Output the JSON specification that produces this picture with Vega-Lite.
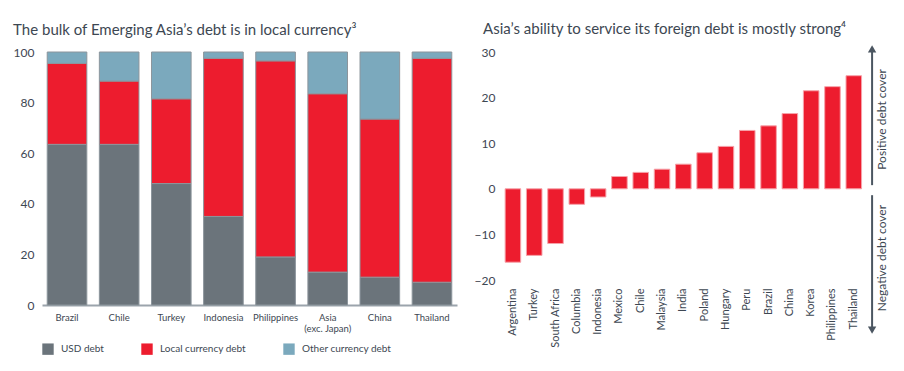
{
  "$schema": "https://vega.github.io/schema/vega-lite/v6.json",
  "background": "white",
  "padding": {"left": 13, "top": 22, "right": 5, "bottom": 5},
  "spacing": 17,
  "config": {
    "view": {"stroke": null},
    "font": "Lato",
    "axis": {"labelColor": "#3d4752", "labelFont": "Lato", "titleColor": "#3d4752"},
    "legend": {"labelColor": "#3d4752", "labelFont": "Lato"},
    "title": {"color": "#3d4752", "font": "Lato", "fontWeight": "normal", "fontSize": 15, "anchor": "start"}
  },
  "hconcat": [
    {
      "width": 415,
      "height": 253,
      "title": {"text": "The bulk of Emerging Asia’s debt is in local currency³", "frame": "bounds", "offset": 8},
      "data": {"values": [
        {"country": "Brazil", "type": "USD debt", "ord": 1, "value": 63.5},
        {"country": "Brazil", "type": "Local currency debt", "ord": 2, "value": 32},
        {"country": "Brazil", "type": "Other currency debt", "ord": 3, "value": 4.5},
        {"country": "Chile", "type": "USD debt", "ord": 1, "value": 63.5},
        {"country": "Chile", "type": "Local currency debt", "ord": 2, "value": 25},
        {"country": "Chile", "type": "Other currency debt", "ord": 3, "value": 11.5},
        {"country": "Turkey", "type": "USD debt", "ord": 1, "value": 48},
        {"country": "Turkey", "type": "Local currency debt", "ord": 2, "value": 33.5},
        {"country": "Turkey", "type": "Other currency debt", "ord": 3, "value": 18.5},
        {"country": "Indonesia", "type": "USD debt", "ord": 1, "value": 35},
        {"country": "Indonesia", "type": "Local currency debt", "ord": 2, "value": 62.5},
        {"country": "Indonesia", "type": "Other currency debt", "ord": 3, "value": 2.5},
        {"country": "Philippines", "type": "USD debt", "ord": 1, "value": 19},
        {"country": "Philippines", "type": "Local currency debt", "ord": 2, "value": 77.5},
        {"country": "Philippines", "type": "Other currency debt", "ord": 3, "value": 3.5},
        {"country": "Asia (exc. Japan)", "type": "USD debt", "ord": 1, "value": 13},
        {"country": "Asia (exc. Japan)", "type": "Local currency debt", "ord": 2, "value": 70.5},
        {"country": "Asia (exc. Japan)", "type": "Other currency debt", "ord": 3, "value": 16.5},
        {"country": "China", "type": "USD debt", "ord": 1, "value": 11},
        {"country": "China", "type": "Local currency debt", "ord": 2, "value": 62.5},
        {"country": "China", "type": "Other currency debt", "ord": 3, "value": 26.5},
        {"country": "Thailand", "type": "USD debt", "ord": 1, "value": 9},
        {"country": "Thailand", "type": "Local currency debt", "ord": 2, "value": 88.5},
        {"country": "Thailand", "type": "Other currency debt", "ord": 3, "value": 2.5}
      ]},
      "mark": {"type": "bar", "stroke": "#8c959c", "strokeWidth": 1},
      "encoding": {
        "x": {
          "field": "country", "type": "nominal",
          "sort": ["Brazil", "Chile", "Turkey", "Indonesia", "Philippines", "Asia (exc. Japan)", "China", "Thailand"],
          "scale": {"paddingInner": 0.24, "paddingOuter": 0.1},
          "axis": {
            "title": null, "labelAngle": 0, "domainColor": "#9ba4ac", "domainWidth": 2, "ticks": false,
            "labelPadding": 7, "labelFontSize": 9.5, "labelBaseline": "top",
            "labelExpr": "datum.value == 'Asia (exc. Japan)' ? ['Asia', '(exc. Japan)'] : datum.value"
          }
        },
        "y": {
          "field": "value", "type": "quantitative", "stack": "zero",
          "scale": {"domain": [0, 100]},
          "axis": {"title": null, "values": [0, 20, 40, 60, 80, 100], "domain": false, "ticks": false, "grid": false, "labelPadding": 8, "labelFontSize": 12}
        },
        "order": {"field": "ord", "type": "quantitative"},
        "color": {
          "field": "type", "type": "nominal",
          "scale": {"domain": ["USD debt", "Local currency debt", "Other currency debt"], "range": ["#6b747b", "#ed1c2e", "#7ba9bd"]},
          "legend": {
            "title": null, "orient": "bottom", "direction": "horizontal", "symbolType": "square", "symbolSize": 130,
            "symbolStrokeWidth": 0, "labelFontSize": 10, "columnPadding": 37, "offset": -5, "labelOffset": 7
          }
        }
      }
    },
    {
      "width": 382,
      "height": 228,
      "title": {"text": "Asia’s ability to service its foreign debt is mostly strong⁴", "offset": 8, "dx": 9},
      "layer": [
        {
          "data": {"values": [
            {"country": "Argentina", "value": -16.1},
            {"country": "Turkey", "value": -14.6},
            {"country": "South Africa", "value": -12.0},
            {"country": "Columbia", "value": -3.4},
            {"country": "Indonesia", "value": -1.8},
            {"country": "Mexico", "value": 2.7},
            {"country": "Chile", "value": 3.6},
            {"country": "Malaysia", "value": 4.3},
            {"country": "India", "value": 5.4},
            {"country": "Poland", "value": 7.9},
            {"country": "Hungary", "value": 9.3},
            {"country": "Peru", "value": 12.8},
            {"country": "Brazil", "value": 13.8},
            {"country": "China", "value": 16.5},
            {"country": "Korea", "value": 21.5},
            {"country": "Philippines", "value": 22.4},
            {"country": "Thailand", "value": 24.8}
          ]},
          "mark": {"type": "bar", "color": "#ed1c2e", "stroke": "#f6a3aa", "strokeWidth": 1},
          "encoding": {
            "x": {
              "field": "country", "type": "nominal",
              "scale": {"domain": ["Argentina", "Turkey", "South Africa", "Columbia", "Indonesia", "Mexico", "Chile", "Malaysia", "India", "Poland", "Hungary", "Peru", "Brazil", "China", "Korea", "Philippines", "Thailand", ""], "paddingInner": 0.27, "paddingOuter": 0.1},
              "axis": {"title": null, "labelAngle": -90, "domain": false, "ticks": false, "labelPadding": 8, "labelFontSize": 11}
            },
            "y": {
              "field": "value", "type": "quantitative",
              "scale": {"domain": [-20, 30]},
              "axis": {"title": null, "values": [-20, -10, 0, 10, 20, 30], "domain": false, "ticks": false, "grid": false, "labelPadding": 8, "labelFontSize": 12}
            }
          }
        },
        {
          "mark": {"type": "rule", "color": "#9ba4ac", "strokeWidth": 2},
          "encoding": {"y": {"datum": 0}}
        },
        {
          "data": {"values": [
            {"country": "", "from": 0.8, "to": 30.2},
            {"country": "", "from": -1.4, "to": -30.4}
          ]},
          "mark": {"type": "rule", "color": "#4b5661", "strokeWidth": 2, "xOffset": -3},
          "encoding": {
            "x": {"field": "country", "type": "nominal"},
            "y": {"field": "from", "type": "quantitative"},
            "y2": {"field": "to"}
          }
        },
        {
          "data": {"values": [
            {"country": "", "pos": 30.7, "shape": "triangle-up"},
            {"country": "", "pos": -31.0, "shape": "triangle-down"}
          ]},
          "mark": {"type": "point", "filled": true, "color": "#4b5661", "opacity": 1, "size": 70, "xOffset": -3},
          "encoding": {
            "x": {"field": "country", "type": "nominal"},
            "y": {"field": "pos", "type": "quantitative"},
            "shape": {"field": "shape", "type": "nominal", "scale": null, "legend": null}
          }
        },
        {
          "data": {"values": [
            {"country": "", "pos": 15.2, "label": "Positive debt cover"},
            {"country": "", "pos": -15.2, "label": "Negative debt cover"}
          ]},
          "mark": {"type": "text", "angle": 270, "fontSize": 12, "color": "#3d4752", "dy": 10, "xOffset": -3, "align": "center", "baseline": "middle"},
          "encoding": {
            "x": {"field": "country", "type": "nominal"},
            "y": {"field": "pos", "type": "quantitative"},
            "text": {"field": "label"}
          }
        }
      ]
    }
  ]
}
